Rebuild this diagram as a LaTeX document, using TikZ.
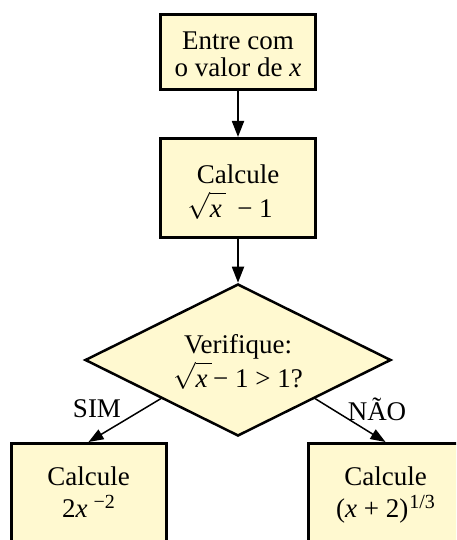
\documentclass[tikz,border=0pt]{standalone}
\usepackage{fix-cm}
\usepackage{fontspec}
\setmainfont{Liberation Serif}
\usetikzlibrary{shapes.geometric,arrows.meta}
\definecolor{boxfill}{RGB}{255,249,208}
\newcommand{\vx}{\textit{x}}
\newcommand{\rtx}{$\sqrt{\rule{0pt}{20pt}\textit{x}\,}$}
\newcommand{\hstrut}[1]{\rule{0pt}{#1}}
\newcommand{\dstrut}{\rule[-12pt]{0pt}{12pt}}
\newcommand{\sups}[1]{\raisebox{9pt}{\fontsize{20}{20}\selectfont #1}}
\begin{document}
\begin{tikzpicture}[x=1pt,y=-1pt,
  txt/.style={font=\fontsize{27}{27}\selectfont},
  box/.style={txt, draw=black, line width=3pt, fill=boxfill, align=center,
    inner sep=0pt, minimum width=155pt},
  dia/.style={txt, diamond, draw=black, line width=2.5pt, fill=boxfill, align=center,
    inner sep=0pt, aspect=2, minimum width=306pt, minimum height=152pt},
  arr/.style={line width=1.8pt, -{Triangle[length=16pt,width=12pt]}},
  darr/.style={line width=1.5pt, -{Triangle[length=15pt,width=11pt]}}]
\clip (0,0) rectangle (456,540);
\node[box, minimum height=75pt, font=\fontsize{27}{27}\selectfont] (a) at (238,52)
  {\hstrut{35pt}Entre com\\o valor de \vx\dstrut};
\node[box, minimum height=99pt, font=\fontsize{27}{34}\selectfont] (b) at (238,188)
  {\hstrut{36pt}Calcule\\\rtx\hspace{11pt}− 1\kern16pt\dstrut};
\node[dia, font=\fontsize{27}{34}\selectfont] (c) at (238,360)
  {\hstrut{32pt}Verifique:\\\rtx\kern1pt− 1 > 1?\dstrut};
\node[box, minimum height=105pt, font=\fontsize{27}{32}\selectfont] (d) at (88.5,496)
  {\hstrut{22pt}Calcule\\2\vx\hspace{6pt}\sups{−2}\dstrut};
\node[box, minimum height=105pt, font=\fontsize{27}{32}\selectfont] (e) at (385.5,496)
  {\hstrut{22pt}Calcule\\(\vx\ + 2)\kern1pt\sups{1/3}\dstrut};
\node[txt] (sim) at (97,409) {SIM};
\node[txt] (nao) at (377,409) {NÃO};
\draw[arr] (a) -- (b);
\draw[arr] (b) -- (c);
\draw[darr] (c.south west) -- (d.north);
\draw[darr] (c.south east) -- (e.north);
\end{tikzpicture}
\end{document}
